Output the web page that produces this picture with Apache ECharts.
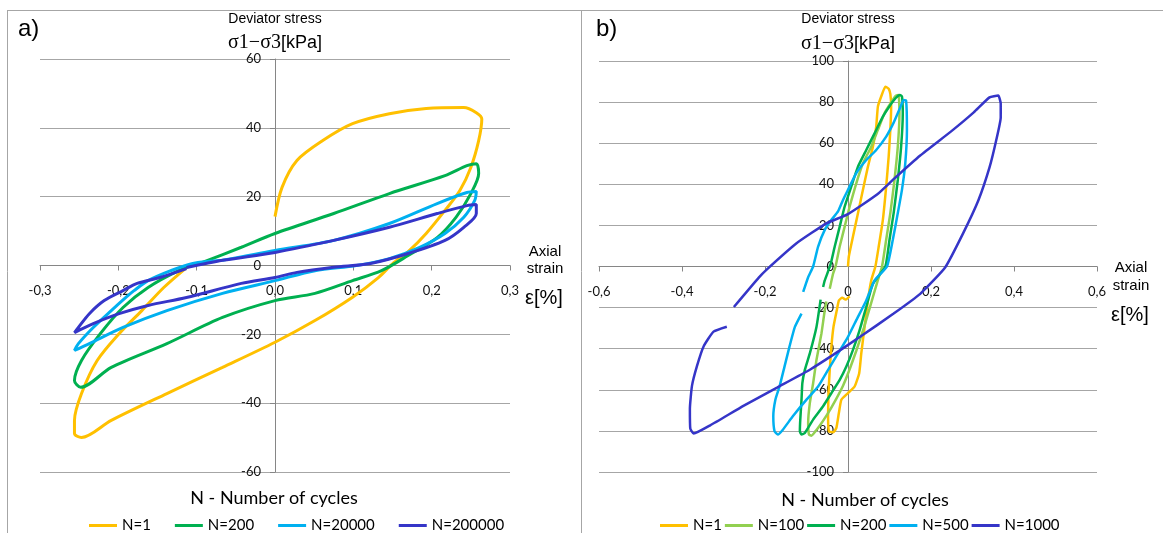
<!DOCTYPE html>
<html><head><meta charset="utf-8">
<script src="https://cdn.jsdelivr.net/npm/echarts@6/dist/echarts.min.js"></script>
<style>html,body{margin:0;padding:0;background:#fff}#c{width:1163px;height:533px}</style>
</head><body><div id="c"></div><script>
// ---------- data: panel a) strain [%], stress [kPa] ----------
const a_N1 = [[0,14.2],[0.009,22.7],[0.028,30.5],[0.061,36.3],[0.099,41.2],[0.146,44.1],[0.193,45.6],[0.241,45.9],[0.257,44.4],[0.264,42.6],[0.26,36.3],[0.25,28.5],[0.236,21.8],[0.217,16],[0.193,9.3],[0.17,4],[0.15,0.5],[0.132,-3.5],[0.099,-9.2],[0.051,-16],[0,-22.3],[-0.067,-29.6],[-0.138,-37.2],[-0.209,-45],[-0.247,-50],[-0.256,-48.8],[-0.256,-45],[-0.247,-37.2],[-0.227,-27.6],[-0.199,-19.8],[-0.17,-13.1],[-0.142,-6.4],[-0.113,-0.6]];
const a_N200 = [[-0.096,0.6],[-0.043,5.3],[0,9.3],[0.075,15.1],[0.146,20.9],[0.217,26.1],[0.245,29],[0.257,29.6],[0.26,26.7],[0.25,20.9],[0.231,14],[0.207,8.1],[0.17,2.9],[0.136,-1.5],[0.099,-4.4],[0.051,-8.1],[0,-10.2],[-0.067,-15.1],[-0.138,-22.7],[-0.209,-29.6],[-0.248,-35.4],[-0.256,-33.4],[-0.247,-27.6],[-0.223,-19.8],[-0.194,-12.2],[-0.162,-6.4],[-0.123,-1.5],[-0.095,0.9]];
const a_N20000 = [[-0.067,1.5],[0,4.4],[0.075,7.3],[0.146,12.2],[0.207,18],[0.245,21.2],[0.257,21.5],[0.255,18.9],[0.241,14],[0.217,9.3],[0.184,5.2],[0.146,2],[0.104,0],[0.051,-1.5],[0,-4.4],[-0.067,-8.1],[-0.138,-13.1],[-0.194,-18],[-0.237,-22.7],[-0.256,-24.7],[-0.251,-22.7],[-0.232,-18],[-0.209,-13.1],[-0.19,-9.2],[-0.18,-7.3],[-0.162,-4.4],[-0.133,-1.5],[-0.105,0.6],[-0.067,1.5]];
const a_N200000 = [[-0.113,-0.6],[-0.067,1.5],[0,3.8],[0.075,7.3],[0.146,11.1],[0.207,15.1],[0.245,17.4],[0.257,17.7],[0.257,15.1],[0.241,11.1],[0.217,7.3],[0.17,3.5],[0.122,0.6],[0.075,-0.5],[0.028,-2],[0,-3.5],[-0.043,-5.2],[-0.113,-9.3],[-0.162,-11.6],[-0.199,-14],[-0.232,-16.9],[-0.256,-19.5],[-0.251,-18],[-0.237,-14],[-0.218,-10.2],[-0.194,-7.3],[-0.176,-5.2],[-0.147,-3.5],[-0.113,-0.9]];
// ---------- data: panel b) ----------
const b_N1 = [[0,0],[0.002,4.9],[0.012,14.6],[0.024,25.9],[0.036,37.3],[0.048,48.6],[0.06,58.3],[0.068,68],[0.072,77.8],[0.08,82.7],[0.09,87.5],[0.098,86.5],[0.102,84],[0.104,77.8],[0.102,66.5],[0.098,53.5],[0.092,38.9],[0.084,22.7],[0.074,9.7],[0.066,0],[0.056,-6.8],[0.048,-16.5],[0.04,-29.4],[0.032,-42.3],[0.027,-51.9],[0.016,-58.4],[0,-61.6],[-0.016,-64.8],[-0.022,-71.3],[-0.028,-78.5],[-0.035,-80.6],[-0.046,-80.2],[-0.048,-72.9],[-0.047,-61.6],[-0.044,-50.3],[-0.04,-39],[-0.035,-29.4],[-0.027,-21.3],[-0.022,-16.5],[-0.014,-15.2],[-0.006,-16.1],[0.004,-14.5]];
const b_N100 = [[-0.044,-10.8],[-0.036,-3.5],[-0.03,0],[-0.02,9.7],[-0.008,19.4],[0.004,29.2],[0.02,40.5],[0.036,50.2],[0.056,58.3],[0.072,66.5],[0.088,74.6],[0.1,78.6],[0.115,83],[0.122,83.5],[0.124,74.6],[0.12,58.3],[0.112,42.1],[0.102,26],[0.092,13],[0.082,0],[0.07,-8],[0.054,-19],[0.038,-30],[0.02,-41],[0.004,-50],[-0.012,-58],[-0.03,-65],[-0.05,-72],[-0.07,-78],[-0.088,-82.3],[-0.094,-81.8],[-0.096,-76.1],[-0.092,-66.5],[-0.084,-56.8],[-0.076,-45.5],[-0.064,-32.6],[-0.056,-21.3],[-0.052,-17]];
const b_N200 = [[-0.06,-10],[-0.056,-6.8],[-0.042,1],[-0.032,9.7],[-0.02,19.4],[-0.008,29.2],[0.008,39],[0.024,48.6],[0.044,56.7],[0.064,64.8],[0.084,72.9],[0.1,78],[0.115,82],[0.125,83.5],[0.13,82.7],[0.132,74.6],[0.128,58.3],[0.12,42.1],[0.11,26],[0.1,13],[0.09,0],[0.06,-8.4],[0.044,-19.7],[0.028,-31],[0.012,-40.6],[-0.004,-48.7],[-0.02,-55.2],[-0.04,-61.6],[-0.06,-68],[-0.084,-74.5],[-0.104,-81],[-0.112,-81.8],[-0.116,-80.2],[-0.115,-74.5],[-0.112,-64.8],[-0.11,-56.8],[-0.104,-50.3],[-0.092,-42.3],[-0.076,-29.4],[-0.066,-16.1]];
const b_N500 = [[-0.108,-12.4],[-0.096,-5.2],[-0.084,0],[-0.072,9.7],[-0.056,17.8],[-0.04,22.7],[-0.024,26.8],[-0.012,32.4],[0,37.3],[0.02,45.4],[0.044,51.8],[0.068,56.7],[0.092,63.2],[0.11,70],[0.125,77],[0.134,81],[0.14,80.7],[0.142,66.5],[0.138,50.2],[0.13,37.3],[0.12,26],[0.108,13],[0.094,0],[0.064,-6.8],[0.044,-16.5],[0.02,-26.1],[0,-34.2],[-0.024,-42.3],[-0.048,-50.3],[-0.072,-58.4],[-0.1,-64.8],[-0.133,-72.9],[-0.157,-79.4],[-0.169,-81.8],[-0.177,-80.2],[-0.18,-72.9],[-0.175,-64.8],[-0.165,-58.4],[-0.153,-48.7],[-0.141,-39],[-0.128,-29.4],[-0.112,-22.9]];
const b_N1000 = [[-0.275,-19.7],[-0.215,-5.4],[-0.196,-1.5],[-0.124,11.3],[-0.052,21],[0,25.5],[0.07,35],[0.11,42.5],[0.174,54],[0.25,66],[0.303,75],[0.341,82.3],[0.362,83.2],[0.368,79.3],[0.368,72.5],[0.357,61.3],[0.341,48.2],[0.314,32.1],[0.277,16],[0.234,-0.5],[0.174,-13.3],[0.11,-22.9],[0.03,-34.1],[-0.035,-42.9],[-0.091,-50.1],[-0.171,-58.9],[-0.251,-67.7],[-0.332,-77.3],[-0.372,-81.3],[-0.38,-78.9],[-0.381,-69.3],[-0.376,-58.1],[-0.364,-48.5],[-0.348,-38.9],[-0.324,-31.7],[-0.292,-29.3]];

const namesA = ['N=1','N=200','N=20000','N=200000'];
const namesB = ['N=1','N=100','N=200','N=500','N=1000'];
const colorsA = ['#FFC000','#00B050','#00B0F0','#3535C8'];
const colorsB = ['#FFC000','#92D050','#00B050','#00B0F0','#3535C8'];
const dataA = [a_N1,a_N200,a_N20000,a_N200000];
const dataB = [b_N1,b_N100,b_N200,b_N500,b_N1000];

const GRID = '#a6a6a6', AXIS = '#868686';
const SANS = '"Liberation Sans", Arial, sans-serif';
const LBL = 'Lato';

function fmtA(v){ if (Math.abs(v) < 1e-9) return '0,0'; return v.toFixed(1).replace('.', ','); }
function fmtB(v){ if (Math.abs(v) < 1e-9) return '0'; return v.toFixed(1).replace('.', ','); }

// x axis moved from the bottom edge up to the zero line with "offset"
function xAx(idx, min, max, iv, fmt, off){
  return {type:'value', gridIndex:idx, min:min, max:max, interval:iv, position:'bottom', offset:off,
    axisLine:{onZero:false, lineStyle:{color:AXIS, width:1}},
    axisTick:{show:true, length:5, lineStyle:{color:AXIS}},
    axisLabel:{margin:19, fontFamily:LBL, fontSize:13, color:'#111', formatter:fmt},
    splitLine:{show:false}};
}
function yAx(idx, min, max, iv, off){
  return {type:'value', gridIndex:idx, min:min, max:max, interval:iv, position:'left', offset:off,
    axisLine:{onZero:false, lineStyle:{color:AXIS, width:1}},
    axisTick:{show:true, length:5, lineStyle:{color:AXIS}},
    axisLabel:{margin:14, fontFamily:LBL, fontSize:13, color:'#111'},
    splitLine:{show:true, lineStyle:{color:GRID, width:1}}};
}

const series = [];
dataA.forEach((d,i)=>series.push({name:namesA[i], type:'line', xAxisIndex:0, yAxisIndex:0, data:d,
  showSymbol:false, smooth:0.3, color:colorsA[i], lineStyle:{width:3, color:colorsA[i]}, z:2+i}));
dataB.forEach((d,i)=>series.push({name:namesB[i], type:'line', xAxisIndex:1, yAxisIndex:1, data:d,
  showSymbol:false, smooth:0.15, color:colorsB[i], lineStyle:{width:2.5, color:colorsB[i]}, z:2+i}));

function txt(x,y,text,font,align){
  return {type:'text', x:x, y:y, z:100, style:{text:text, font:font, fill:'#000', align:align||'center', verticalAlign:'middle'}};
}
function sigma(x,y){
  return {type:'text', x:x, y:y, z:100, style:{text:'{s|σ1−σ3}{k|[kPa]}', align:'center', verticalAlign:'middle',
    rich:{s:{font:'20px "Liberation Serif", serif', fill:'#000'}, k:{font:'18px ' + SANS, fill:'#000'}}}};
}
function ln(x1,y1,x2,y2){
  return {type:'line', shape:{x1:x1,y1:y1,x2:x2,y2:y2}, style:{stroke:'#a6a6a6', lineWidth:1}, z:100};
}

const option = {
  backgroundColor:'#fff',
  animation:false,
  grid:[{left:40, top:59, width:470, height:413}, {left:599, top:61, width:498, height:411}],
  xAxis:[xAx(0,-0.3,0.3,0.1,fmtA,-206.5), xAx(1,-0.6,0.6,0.2,fmtB,-205.5)],
  yAxis:[yAx(0,-60,60,20,-235), yAx(1,-100,100,20,-249)],
  legend:[
    {data:namesA, left:84, top:513, itemWidth:28, itemHeight:3, itemGap:24, icon:'rect',
     textStyle:{fontFamily:LBL, fontSize:15, color:'#000'}},
    {data:namesB, left:655, top:513, itemWidth:28, itemHeight:3, itemGap:3, icon:'rect',
     textStyle:{fontFamily:LBL, fontSize:15, color:'#000'}}
  ],
  graphic:[
    ln(7,10.5,1163,10.5), ln(7.5,10,7.5,533), ln(581.5,10,581.5,533),
    txt(18,29,'a)','24px ' + SANS,'left'),
    txt(596,29,'b)','24px ' + SANS,'left'),
    txt(275,19,'Deviator stress','14px ' + SANS),
    txt(848,19,'Deviator stress','14px ' + SANS),
    sigma(275,43), sigma(848,44),
    txt(545,252,'Axial','15px ' + SANS), txt(545,269,'strain','15px ' + SANS),
    txt(544,298,'ε[%]','20px ' + SANS),
    txt(1131,268,'Axial','15px ' + SANS), txt(1131,286,'strain','15px ' + SANS),
    txt(1130,315,'ε[%]','20px ' + SANS),
    txt(274,498,'N - Number of cycles','18px ' + LBL),
    txt(865,500,'N - Number of cycles','18px ' + LBL)
  ],
  series:series
};
const chart = echarts.init(document.getElementById('c'), null, {renderer:'canvas'});
chart.setOption(option);
</script></body></html>
